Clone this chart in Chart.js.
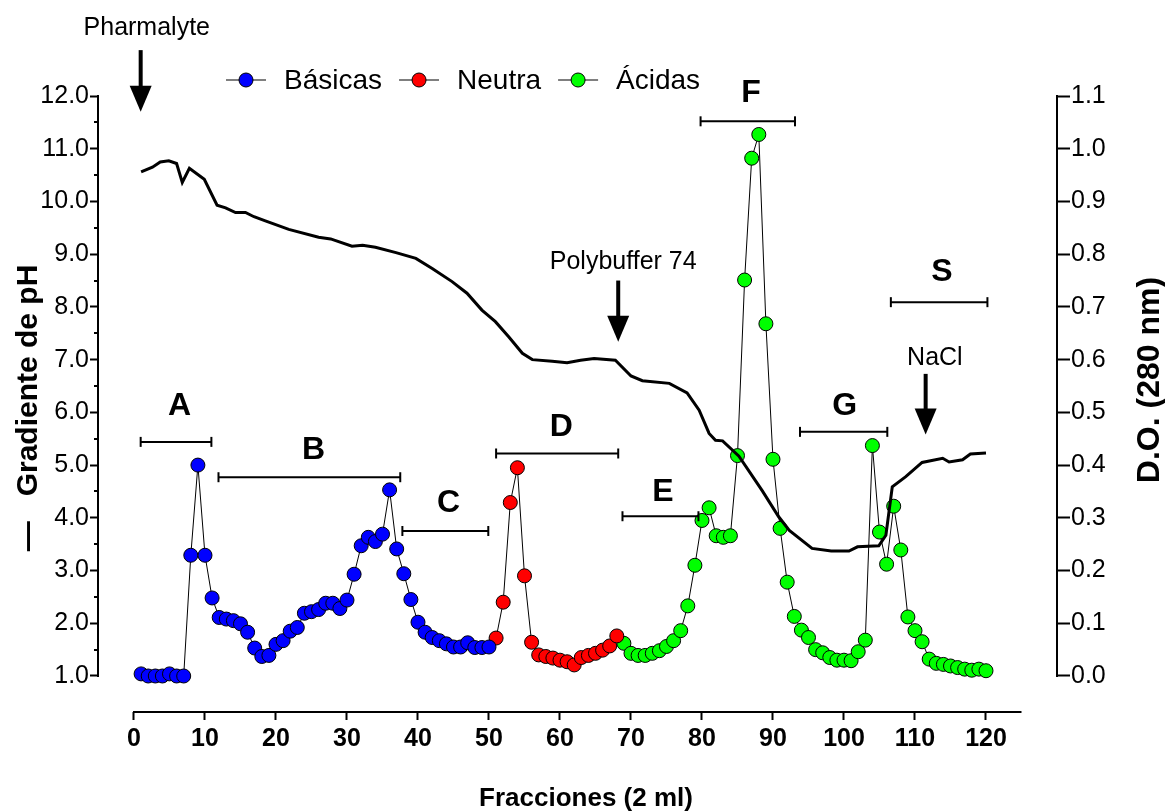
<!DOCTYPE html>
<html lang="es">
<head>
<meta charset="utf-8">
<title>Fracciones - gradiente de pH</title>
<script src="https://cdn.jsdelivr.net/npm/chart.js@4.4.1/dist/chart.umd.min.js"></script>
<style>
  html, body { margin: 0; padding: 0; background: #fff; }
</style>
</head>
<body>
<canvas id="chart" width="1165" height="812"></canvas>
<script>
// --- D.O. (280 nm) por fraccion ---
const inicioBasicas = 1;   // fracciones 1-50
const doBasicas = [
  0.004, 0.0, 0.0, 0.0, 0.004, 0.0, 0.0, 0.229, 0.400, 0.229,
  0.148, 0.111, 0.108, 0.105, 0.099, 0.083, 0.053, 0.037, 0.039, 0.060,
  0.067, 0.085, 0.092, 0.119, 0.122, 0.126, 0.138, 0.138, 0.128, 0.144,
  0.193, 0.247, 0.263, 0.255, 0.269, 0.353, 0.241, 0.194, 0.145, 0.102,
  0.083, 0.073, 0.067, 0.061, 0.055, 0.055, 0.063, 0.054, 0.054, 0.055
];
const inicioNeutra = 51;   // fracciones 51-68
const doNeutra = [
  0.072, 0.140, 0.329, 0.395, 0.190, 0.064, 0.040, 0.037, 0.034, 0.030,
  0.027, 0.021, 0.035, 0.039, 0.043, 0.049, 0.057, 0.076
];
const inicioAcidas = 69;   // fracciones 69-120
const doAcidas = [
  0.062, 0.043, 0.039, 0.039, 0.043, 0.048, 0.056, 0.067, 0.086, 0.133,
  0.210, 0.295, 0.319, 0.266, 0.263, 0.266, 0.418, 0.751, 0.982, 1.027,
  0.668, 0.411, 0.280, 0.178, 0.113, 0.087, 0.073, 0.050, 0.044, 0.035,
  0.030, 0.030, 0.029, 0.046, 0.068, 0.437, 0.273, 0.212, 0.322, 0.239,
  0.112, 0.086, 0.065, 0.032, 0.024, 0.022, 0.019, 0.016, 0.013, 0.011,
  0.013, 0.010
];

// --- gradiente de pH (vertices de la curva) ---
const phFraccion = [1, 2.6, 3.7, 4.9, 6, 6.8, 7.8, 9.9, 11.7, 12.9, 14.3, 15.7, 16.9, 18.5,
  21.8, 26, 27.7, 30.7, 32.2, 34, 36.9, 39.7, 42, 44.8, 46.9, 49, 50.9, 52.8, 54.7, 56.1,
  58.9, 61, 62.9, 64.8, 67.8, 70, 71.6, 75.4, 77.9, 79.6, 81, 81.9, 82.9, 85.2, 88.5,
  90.8, 92.3, 95.5, 98.2, 100.7, 101.9, 104.9, 105.9, 106.8, 108.7, 111, 113.9, 114.8,
  116.7, 117.8, 120];
const phValor = [10.56, 10.65, 10.75, 10.77, 10.72, 10.36, 10.63, 10.42, 9.93, 9.88, 9.79, 9.79, 9.71, 9.63,
  9.47, 9.32, 9.29, 9.15, 9.17, 9.13, 9.03, 8.92, 8.73, 8.48, 8.26, 7.94, 7.72, 7.43, 7.12, 7.0,
  6.97, 6.94, 6.99, 7.02, 6.99, 6.69, 6.60, 6.55, 6.37, 6.04, 5.60, 5.47, 5.46, 5.17, 4.51,
  4.02, 3.76, 3.42, 3.37, 3.37, 3.45, 3.47, 3.67, 4.59, 4.78, 5.05, 5.13, 5.06,
  5.10, 5.21, 5.23];

// --- ticks ---
const xTicks = [0, 10, 20, 30, 40, 50, 60, 70, 80, 90, 100, 110, 120];
const xEjeFin = 125;
const phTicks = [1, 2, 3, 4, 5, 6, 7, 8, 9, 10, 11, 12];
const phTicksMenores = [1.5, 2.5, 3.5, 4.5, 5.5, 6.5, 7.5, 8.5, 9.5, 10.5, 11.5];
const doTicks = [0, 0.1, 0.2, 0.3, 0.4, 0.5, 0.6, 0.7, 0.8, 0.9, 1.0, 1.1];

// --- zonas A-G y S (fraccion desde/hasta, nivel en unidades de pH) ---
const zonaNombre = ["A", "B", "C", "D", "E", "F", "G", "S"];
const zonaDesde  = [0.94, 11.9, 37.8, 51.0, 68.8, 79.8, 93.8, 106.6];
const zonaHasta  = [10.9, 37.5, 49.9, 68.2, 79.5, 93.1, 106.1, 120.2];
const zonaNivel  = [5.44, 4.77, 3.75, 5.22, 4.03, 11.52, 5.63, 8.09];
const zonaLetraX = [6.4, 25.3, 44.3, 60.2, 74.5, 86.9, 100.1, 113.8];
const zonaLetraY = [6.11, 5.28, 4.27, 5.72, 4.49, 12.06, 6.11, 8.66];

// --- flechas ---
const flechaTexto    = ["Pharmalyte", "Polybuffer 74", "NaCl"];
const flechaFraccion = [0.94, 68.2, 111.5];
const flechaDesde    = [12.87, 8.50, 6.73];
const flechaHasta    = [11.70, 7.34, 5.58];
const textoFraccion  = [1.8, 68.9, 112.8];
const textoNivel     = [13.15, 8.72, 6.89];

const FONT = "'Liberation Sans', Arial, sans-serif";

const puntos = (vals, inicio) => vals.map((v, i) => ({ x: inicio + i, y: v }));
const todos = [
  ...puntos(doBasicas, inicioBasicas),
  ...puntos(doNeutra, inicioNeutra),
  ...puntos(doAcidas, inicioAcidas)
];

const serie = (label, data, color) => ({
  label, data, yAxisID: "y1", showLine: false,
  pointRadius: 7, pointHoverRadius: 7,
  pointBackgroundColor: color, pointBorderColor: "#000", pointBorderWidth: 1,
  order: 1
});

// ejes, zonas, flechas, leyenda y titulos
const extras = {
  id: "extras",
  afterDraw(chart) {
    const { ctx, chartArea: a, scales: { x, y, y1 } } = chart;
    ctx.save();
    ctx.strokeStyle = "#000";
    ctx.fillStyle = "#000";
    ctx.lineWidth = 2;

    const seg = (x1, y1_, x2, y2) => {
      ctx.beginPath(); ctx.moveTo(x1, y1_); ctx.lineTo(x2, y2); ctx.stroke();
    };

    // lineas de ejes
    seg(a.left, y.getPixelForValue(1) + 1, a.left, y.getPixelForValue(12) - 1);
    seg(a.right, y1.getPixelForValue(0) + 1, a.right, y1.getPixelForValue(1.1) - 1);
    seg(x.getPixelForValue(0) - 1, a.bottom, x.getPixelForValue(xEjeFin), a.bottom);
    phTicksMenores.forEach(v => {
      const p = Math.round(y.getPixelForValue(v));
      seg(a.left - 4, p, a.left, p);
    });

    // zonas
    zonaNombre.forEach((n, i) => {
      const x1 = x.getPixelForValue(zonaDesde[i]);
      const x2 = x.getPixelForValue(zonaHasta[i]);
      const py = y.getPixelForValue(zonaNivel[i]);
      ctx.lineWidth = 2;
      seg(x1, py, x2, py);
      seg(x1, py - 5, x1, py + 5);
      seg(x2, py - 5, x2, py + 5);
      ctx.font = "bold 32px " + FONT;
      ctx.textAlign = "center";
      ctx.textBaseline = "middle";
      ctx.fillText(n, x.getPixelForValue(zonaLetraX[i]), y.getPixelForValue(zonaLetraY[i]));
    });

    // flechas
    flechaTexto.forEach((t, i) => {
      const px = x.getPixelForValue(flechaFraccion[i]);
      const top = y.getPixelForValue(flechaDesde[i]);
      const tip = y.getPixelForValue(flechaHasta[i]);
      ctx.lineWidth = 4;
      seg(px, top, px, tip - 20);
      ctx.beginPath();
      ctx.moveTo(px - 11, tip - 26);
      ctx.lineTo(px + 11, tip - 26);
      ctx.lineTo(px, tip);
      ctx.closePath();
      ctx.fill();
      ctx.font = "25px " + FONT;
      ctx.textAlign = "center";
      ctx.textBaseline = "alphabetic";
      ctx.fillText(t, x.getPixelForValue(textoFraccion[i]), y.getPixelForValue(textoNivel[i]));
    });

    // leyenda
    let lx = 226;
    const ly = 80;
    ctx.font = "28px " + FONT;
    ctx.textAlign = "left";
    ctx.textBaseline = "middle";
    chart.data.datasets.filter(d => d.order === 1).forEach(d => {
      ctx.strokeStyle = "#555";
      ctx.lineWidth = 1.5;
      seg(lx, ly, lx + 40, ly);
      ctx.beginPath();
      ctx.arc(lx + 20, ly, 7, 0, Math.PI * 2);
      ctx.fillStyle = d.pointBackgroundColor;
      ctx.fill();
      ctx.strokeStyle = "#000";
      ctx.lineWidth = 1;
      ctx.stroke();
      ctx.fillStyle = "#000";
      ctx.fillText(d.label, lx + 58, ly + 1);
      lx += 58 + ctx.measureText(d.label).width + 17;
    });

    // titulos de ejes
    ctx.textAlign = "center";
    ctx.textBaseline = "middle";
    ctx.font = "bold 26px " + FONT;
    ctx.fillText("Fracciones (2 ml)", 586, 799);
    ctx.font = "bold 30px " + FONT;
    ctx.save();
    ctx.translate(29, 408);
    ctx.rotate(-Math.PI / 2);
    ctx.fillText("\u2014   Gradiente de pH", 0, 0);
    ctx.restore();
    ctx.font = "bold 32px " + FONT;
    ctx.save();
    ctx.translate(1150, 380);
    ctx.rotate(-Math.PI / 2);
    ctx.fillText("D.O. (280 nm)", 0, 0);
    ctx.restore();

    ctx.restore();
  }
};

const tickGrid = len => ({
  display: true, drawOnChartArea: false, drawTicks: true,
  tickLength: len, tickWidth: 2, tickColor: "#000"
});
const tickFont = (size, weight) => ({ family: FONT, size, weight });

new Chart(document.getElementById("chart"), {
  type: "line",
  data: {
    datasets: [
      {
        label: "pH",
        data: phFraccion.map((f, i) => ({ x: f, y: phValor[i] })),
        yAxisID: "y", borderColor: "#000", borderWidth: 3,
        pointRadius: 0, tension: 0, fill: false, order: 0
      },
      serie("Básicas", puntos(doBasicas, inicioBasicas), "#0000ff"),
      serie("Neutra", puntos(doNeutra, inicioNeutra), "#ff0000"),
      serie("Ácidas", puntos(doAcidas, inicioAcidas), "#00ff00"),
      {
        label: "traza",
        data: todos,
        yAxisID: "y1", borderColor: "#000", borderWidth: 1,
        pointRadius: 0, tension: 0, fill: false, order: 2
      }
    ]
  },
  options: {
    responsive: false,
    animation: false,
    events: [],
    layout: { padding: { top: 96, left: 0, right: 0, bottom: 0 } },
    plugins: { legend: { display: false }, tooltip: { enabled: false } },
    scales: {
      x: {
        type: "linear", min: -5.07, max: 130,
        afterBuildTicks: s => { s.ticks = xTicks.map(v => ({ value: v })); },
        afterFit: s => { s.height = 100; },
        grid: tickGrid(8),
        border: { display: false },
        ticks: { autoSkip: false, maxRotation: 0, padding: 4, color: "#000", font: tickFont(25, "bold") }
      },
      y: {
        position: "left", min: 0.3172, max: 12,
        afterBuildTicks: s => { s.ticks = phTicks.map(v => ({ value: v })); },
        afterFit: s => { s.width = 98; },
        grid: tickGrid(8),
        border: { display: false },
        ticks: { padding: 1, color: "#000", font: tickFont(25, "normal"), callback: v => v.toFixed(1) }
      },
      y1: {
        position: "right", min: -0.06828, max: 1.1,
        afterBuildTicks: s => { s.ticks = doTicks.map(v => ({ value: v })); },
        afterFit: s => { s.width = 108; },
        grid: tickGrid(13),
        border: { display: false },
        ticks: { padding: 1, color: "#000", font: tickFont(25, "normal"), callback: v => v.toFixed(1) }
      }
    }
  },
  plugins: [extras]
});
</script>
</body>
</html>
